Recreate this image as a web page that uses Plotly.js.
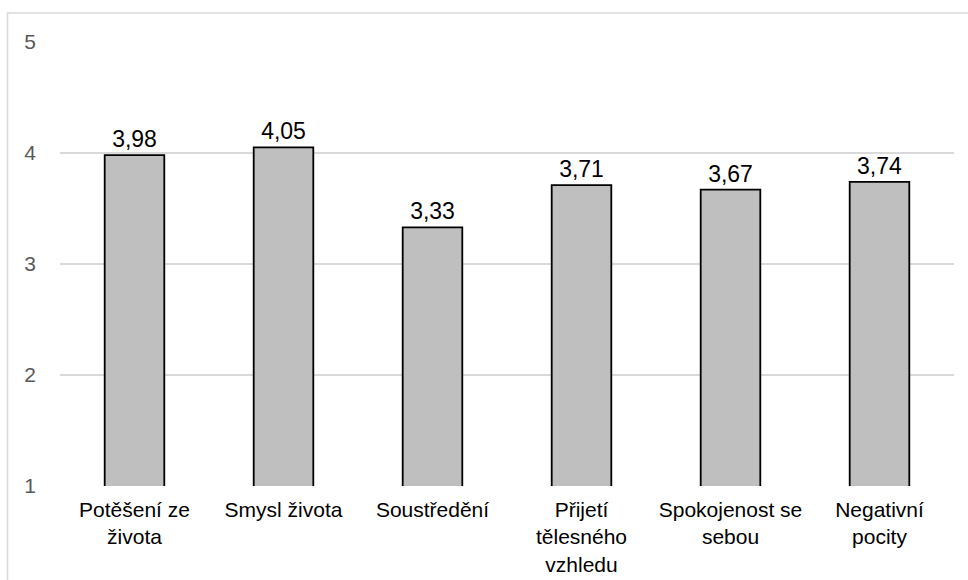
<!DOCTYPE html>
<html>
<head>
<meta charset="utf-8">
<script src="https://cdn.plot.ly/plotly-3.0.1.min.js"></script>
<style>html,body{margin:0;padding:0;background:#fff;}#chart{width:968px;height:580px;}</style>
</head>
<body>
<div id="chart"></div>
<script>
const categories = ["Potěšení ze<br>života", "Smysl života", "Soustředění", "Přijetí<br>tělesného<br>vzhledu", "Spokojenost se<br>sebou", "Negativní<br>pocity"];
const values = [3.98, 4.05, 3.33, 3.71, 3.67, 3.74];
const yTicks = [1, 2, 3, 4, 5];

const trace = {
  type: 'bar',
  x: categories,
  y: values,
  base: 0,
  marker: {color: '#bfbfbf', line: {color: '#000000', width: 1.8}},
  texttemplate: '%{y:.2f}',
  textposition: 'outside',
  textfont: {family: 'Liberation Sans, Arial, sans-serif', size: 23, color: '#000000'},
  cliponaxis: false,
  hoverinfo: 'skip'
};

const layout = {
  width: 968, height: 580,
  margin: {l: 60, r: 14, t: 42, b: 94},
  paper_bgcolor: '#ffffff', plot_bgcolor: '#ffffff',
  separators: ', ',
  bargap: 0.6,
  showlegend: false,
  font: {family: 'Liberation Sans, Arial, sans-serif'},
  xaxis: {
    type: 'category',
    showgrid: false, showline: false, zeroline: false, ticks: '',
    tickfont: {size: 21, color: '#000000'},
    ticklabelstandoff: 9
  },
  yaxis: {
    range: [1, 5], tickvals: yTicks, ticktext: yTicks.map(String),
    showgrid: true, gridcolor: '#d9d9d9', gridwidth: 1.3,
    zeroline: false, showline: false, ticks: '',
    tickfont: {size: 21, color: '#595959'},
    ticklabelstandoff: 23
  },
  shapes: [{
    type: 'rect', xref: 'paper', yref: 'paper',
    x0: -0.0587, x1: 1.05, y0: -0.3, y1: 1.0653,
    line: {color: '#d9d9d9', width: 1.5}, fillcolor: 'rgba(0,0,0,0)', layer: 'below'
  }]
};

Plotly.newPlot('chart', [trace], layout, {displayModeBar: false, staticPlot: true});
</script>
</body>
</html>
